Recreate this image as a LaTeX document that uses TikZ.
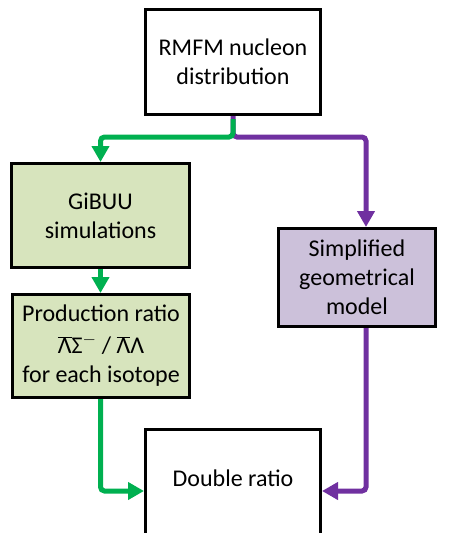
\documentclass[tikz,border=0pt]{standalone}
\usepackage{fontspec}
\setmainfont{Carlito}
\usetikzlibrary{arrows.meta}

\definecolor{flowGreen}{HTML}{00B050}
\definecolor{flowPurple}{HTML}{7030A0}
\definecolor{oliveFill}{HTML}{D7E4BD}
\definecolor{lilacFill}{HTML}{CCC1DA}

\newcommand{\barLambda}{$\overline{\mbox{Λ}}$}

\begin{document}
\begin{tikzpicture}[x = 1pt, y = -1pt, font = \fontsize{24}{29}\selectfont]
	\tikzstyle{boxStyle} = [draw, line width = 3pt, align = center, inner sep = 0pt]
	\tikzstyle{greenStyle} = [draw = flowGreen, line width = 5pt, rounded corners = 4pt, -{Triangle[width = 17pt, length = 16pt]}]
	\tikzstyle{purpleStyle} = [draw = flowPurple, line width = 5pt, rounded corners = 4pt, -{Triangle[width = 17pt, length = 16pt]}]
	\useasboundingbox (0, 0) rectangle (452, 533);
	% boxes
	\node[boxStyle, minimum width = 175pt, minimum height = 105pt] (rmfm) at (233, 62) {RMFM nucleon\\distribution};
	\node[boxStyle, fill = oliveFill, minimum width = 178pt, minimum height = 104pt] (gibuu) at (100.5, 215.5) {GiBUU\\simulations};
	\node[boxStyle, fill = oliveFill, minimum width = 177pt, minimum height = 103pt] (prod) at (101, 346) {Production ratio\\[3pt]\barLambda Σ$^{-}$ / \barLambda Λ\\for each isotope};
	\node[boxStyle, fill = lilacFill, minimum width = 157pt, minimum height = 98pt] (geom) at (357, 277.5) {Simplified\\geometrical\\model};
	\node[boxStyle, minimum width = 175pt, minimum height = 123pt, text height = 16pt, text depth = 26pt] (double) at (233, 491) {Double ratio};
	% branch points
	\coordinate (split) at (233, 137);
	\coordinate (turn) at (366, 137);
	% purple path
	\draw[purpleStyle] (rmfm.south) -- (split) -- (turn) -- (turn |- geom.north);
	\draw[purpleStyle] (turn |- geom.south) -- (turn |- double.east) -- (double.east);
	% green path
	\draw[greenStyle] ([yshift = -3pt]rmfm.south) -- (split) -| (gibuu.north);
	\draw[greenStyle] (gibuu.south) -- (prod.north -| gibuu.south);
	\draw[greenStyle] (prod.south -| gibuu.south) -- (gibuu.south |- double.west) -- (double.west);
\end{tikzpicture}
\end{document}
